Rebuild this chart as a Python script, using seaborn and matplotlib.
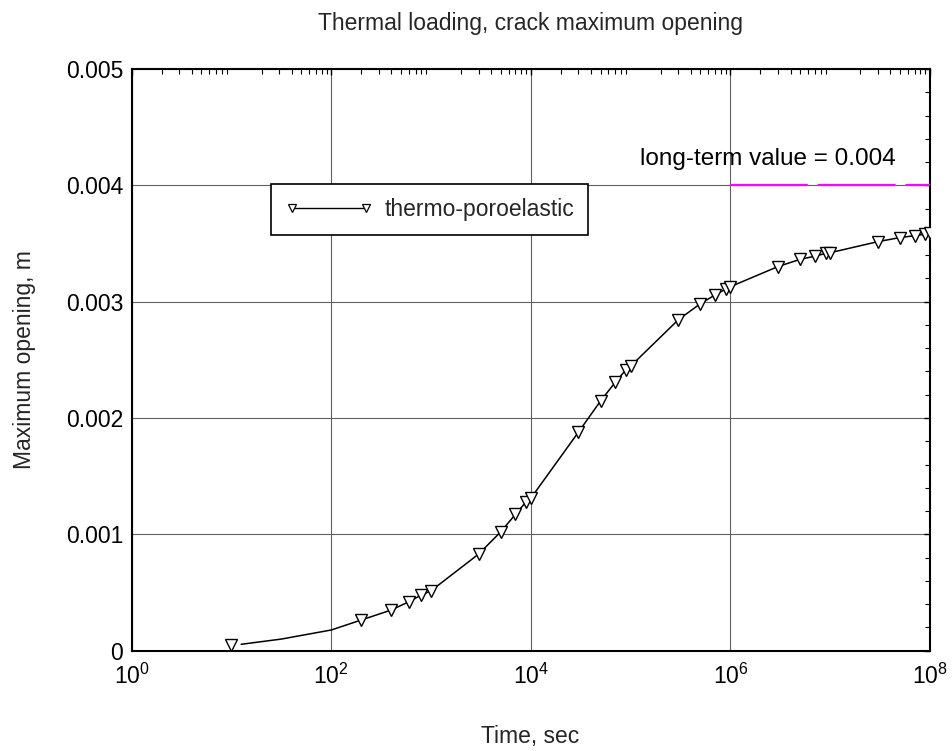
import matplotlib
matplotlib.use("Agg")
import matplotlib.pyplot as plt
import matplotlib.ticker as mticker
from matplotlib.lines import Line2D
import seaborn as sns
import pandas as pd
import numpy as np

# Data
time_s = [10, 200, 400, 600, 800, 1000, 3000, 5000, 7000, 9000, 1e4,
          3e4, 5e4, 7e4, 9e4, 1e5, 3e5, 5e5, 7e5, 9e5, 1e6,
          3e6, 5e6, 7e6, 9e6, 1e7, 3e7, 5e7, 7e7, 9e7, 1e8]
opening = [0.000047, 0.000264, 0.000350, 0.000421, 0.000479, 0.000515,
           0.000831, 0.001022, 0.001172, 0.001281, 0.001311,
           0.001879, 0.002147, 0.002306, 0.002416, 0.002446,
           0.002844, 0.002983, 0.003057, 0.003109, 0.003129,
           0.003302, 0.003364, 0.003391, 0.003415, 0.003421,
           0.003516, 0.003551, 0.003567, 0.003581, 0.003588]
# points of the smooth curve at the low end
curve_t = [12.5, 31.6, 100] + time_s[1:]
curve_v = [0.000055, 0.0001, 0.000178] + opening[1:]

long_term = 0.004
long_term_t = [1e6, 1e8]
xticks = [1e0, 1e2, 1e4, 1e6, 1e8]
yticks = [0, 0.001, 0.002, 0.003, 0.004, 0.005]
ytick_labels = ["0", "0.001", "0.002", "0.003", "0.004", "0.005"]

sns.set_theme(style="white")
plt.rcParams['font.family'] = ['Liberation Sans', 'DejaVu Sans']

W, H = 952, 751
L, R, T, B = 131.7, 930.0, 69.0, 650.7
fig = plt.figure(figsize=(W / 100, H / 100), dpi=100)
ax = fig.add_axes([L / W, 1 - B / H, (R - L) / W, (B - T) / H])

df_curve = pd.DataFrame({"t": curve_t, "v": curve_v})
df_pts = pd.DataFrame({"t": time_s, "v": opening})
sns.lineplot(data=df_curve, x="t", y="v", ax=ax, color="black", lw=1.1,
             estimator=None, sort=True, legend=False, zorder=3)
ax.plot(df_pts["t"], df_pts["v"], ls="none", marker="v", ms=8.5,
        mfc="white", mec="black", mew=1.0, zorder=4)
ax.plot(long_term_t, [long_term, long_term], color="#ff00ff", lw=1.6,
        dashes=(35, 4.5), zorder=3)

ax.set_xlabel("")
ax.set_ylabel("")
ax.set_xscale("log")
ax.set_xlim(1, 1e8)
ax.set_ylim(0, 0.005)
ax.set_xticks(xticks)
ax.set_xticklabels([r"$\mathregular{10^{%d}}$" % int(np.log10(t)) for t in xticks])
ax.xaxis.set_minor_locator(mticker.LogLocator(base=10, subs=np.arange(2, 10), numticks=20))
ax.xaxis.set_minor_formatter(mticker.NullFormatter())
ax.set_yticks(yticks)
ax.set_yticklabels(ytick_labels)
ax.yaxis.set_minor_locator(mticker.MultipleLocator(0.0002))

ax.tick_params(which="both", direction="in", top=True, right=True,
               labelsize=16.5, colors="black")
ax.tick_params(which="major", length=4, width=1)
ax.tick_params(which="minor", length=3.6, width=0.8)
ax.tick_params(axis="x", pad=9)
ax.tick_params(axis="y", pad=6)
for s in ax.spines.values():
    s.set_color("black")
    s.set_linewidth(1.5)

ax.grid(True, which="major", color="#606060", lw=0.8)
ax.set_axisbelow(True)

ax.text(10**5.094, 0.004175, "long-term value = 0.004", fontsize=17.5,
        color="black", va="baseline")

fig.text(530 / W, 1 - 30 / H, "Thermal loading, crack maximum opening",
         fontsize=16.5, ha="center", va="baseline")
fig.text(530 / W, 1 - 742.5 / H, "Time, sec", fontsize=16.5,
         ha="center", va="baseline")
fig.text(31.5 / W, 1 - 360 / H, "Maximum opening, m", fontsize=16.5,
         ha="center", va="baseline", rotation=90, rotation_mode="anchor")

handle = Line2D([], [], color="black", lw=1, marker="v", ms=6,
                mfc="white", mec="black", mew=0.9)
leg = ax.legend([handle], ["thermo-poroelastic"], loc="upper left",
                bbox_to_anchor=((271 - L) / (R - L), (B - 184) / (B - T)),
                numpoints=2, handlelength=3.85, handletextpad=0.52,
                fontsize=16.5, fancybox=False, framealpha=1,
                edgecolor="black", borderpad=0.6, borderaxespad=0)
leg.get_frame().set_linewidth(1.2)

fig.savefig("out.png", dpi=100)
